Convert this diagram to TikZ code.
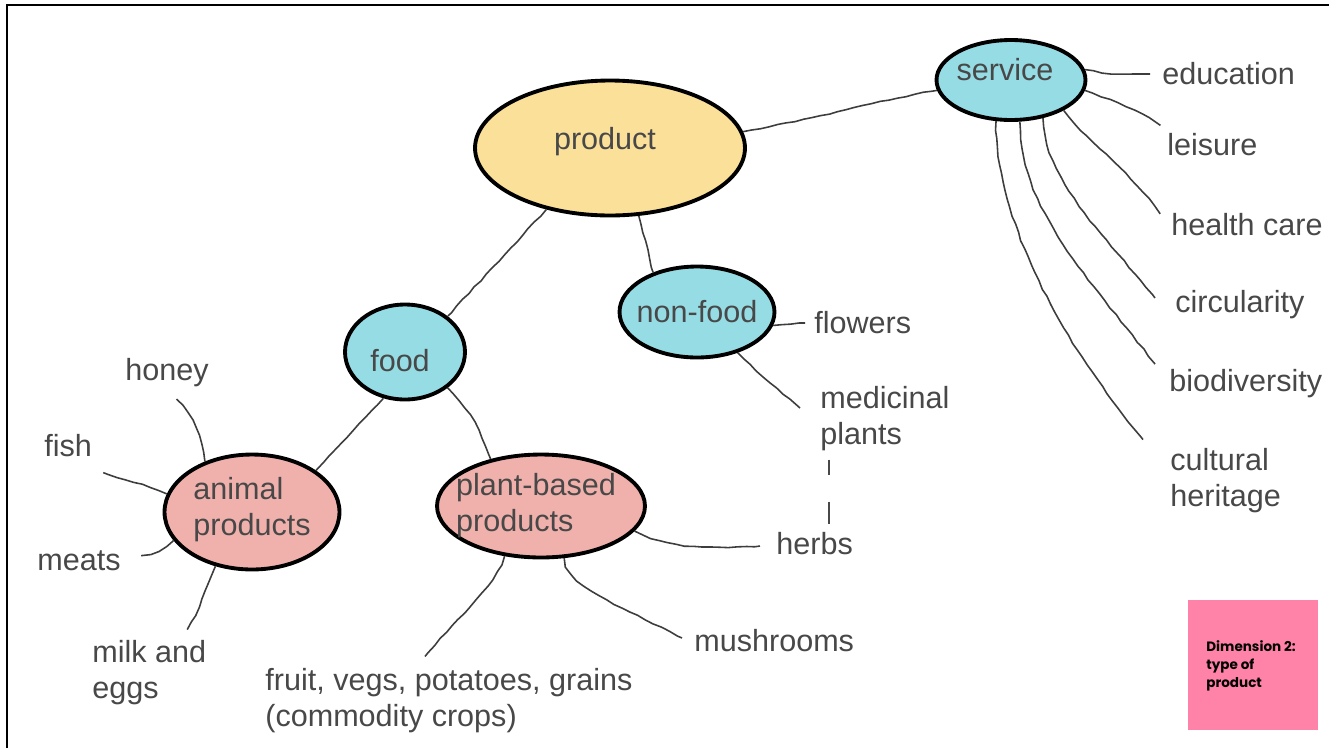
\documentclass[tikz,border=0pt]{standalone}
\usepackage{fontspec}
\setmainfont{Liberation Sans}
\newfontfamily\dimfont{Poppins}
\usetikzlibrary{shapes.geometric,calc,decorations.pathmorphing}
\definecolor{myyellow}{RGB}{251,224,154}
\definecolor{mycyan}{RGB}{150,220,228}
\definecolor{mypink}{RGB}{240,177,172}
\definecolor{mymagenta}{RGB}{255,130,168}
\definecolor{mygray}{RGB}{72,72,72}
\tikzset{
    bubble/.style={ellipse, draw=black, line width=2.2pt, inner sep=0pt},
    bubtext/.style={text=mygray, align=left, inner sep=0pt, font=\fontsize{17.4}{20.4}\selectfont},
    leaf/.style={anchor=west, inner sep=0pt, text=mygray, align=left, font=\fontsize{17.4}{20.4}\selectfont},
    conn/.style={draw=mygray!85!black, line width=0.9pt, decorate,
        decoration={random steps, segment length=5pt, amplitude=0.35pt}},
}

\begin{document}
\begin{tikzpicture}[x=0.02cm, y=-0.02cm]
    \pgfmathsetseed{7}
    \useasboundingbox (0,0) rectangle (1329,748);
    \begin{scope}
        % Frame
        \draw[line width=1.7pt] (7,748) -- (7,5) -- (1329,5);
        % Bubbles
        \node[bubble, fill=myyellow, minimum width=5.4cm, minimum height=2.7cm,
            label={[bubtext, xshift=-0.1cm, yshift=0.12cm]center:product}] (prod) at (610,148) {};
        \node[bubble, fill=mycyan, minimum width=2.98cm, minimum height=1.6cm,
            label={[bubtext, xshift=-0.12cm, yshift=0.2cm]center:service}] (serv) at (1011,80) {};
        \node[bubble, fill=mycyan, minimum width=3.1cm, minimum height=1.82cm,
            label={[bubtext]center:non-food}] (nonfood) at (697,312) {};
        \node[bubble, fill=mycyan, minimum width=2.4cm, minimum height=1.9cm,
            label={[bubtext, xshift=-0.1cm, yshift=-0.18cm]center:food}] (food) at (405,352) {};
        \node[bubble, fill=mypink, minimum width=3.5cm, minimum height=2.3cm,
            label={[bubtext, yshift=0.04cm]center:{animal\\products}}] (animal) at (252,512) {};
        \node[bubble, fill=mypink, minimum width=4.16cm, minimum height=2.06cm,
            label={[bubtext, xshift=-0.1cm]center:{plant-based\\products}}] (plant) at (541,506) {};
        % Service leaves
        \node[leaf] (edu) at (1162,74) {education};
        \node[leaf] (leis) at (1167,145) {leisure};
        \node[leaf] (health) at (1171,225) {health care};
        \node[leaf] (circ) at (1175,305) {circularity};
        \node[leaf] (bio) at (1169,384) {biodiversity};
        \node[leaf] (cult) at (1170,481) {cultural\\heritage};
        % Non-food leaves
        \node[leaf] (flow) at (814,323) {flowers};
        \node[leaf] (medic) at (820,419) {medicinal\\plants};
        % Plant leaves
        \node[leaf] (herbs) at (776,544) {herbs};
        \node[leaf] (mush) at (694,641) {mushrooms};
        \node[leaf] (fruit) at (265,701) {fruit, vegs, potatoes, grains\\(commodity crops)};
        % Animal leaves
        \node[leaf] (milk) at (92,673) {milk and\\eggs};
        \node[leaf] (meats) at (37,561) {meats};
        \node[leaf] (fish) at (44,446) {fish};
        \node[leaf] (honey) at (125,373) {honey};
        % Tree
        \draw[conn] (prod.7) .. controls (820,118) and (880,100) .. (serv.188);
        \draw[conn] (prod.224) -- (food.40);
        \draw[conn] (prod.293) -- (nonfood.138);
        \draw[conn] (food.245) -- (animal.33);
        \draw[conn] (food.320) .. controls (470,410) and (480,430) .. (plant.137);
        % Service
        \draw[conn] (serv.8) .. controls (1110,74) .. ($(edu.west)+(-12,0)$);
        \draw[conn] (serv.352) .. controls (1110,100) and (1140,110) .. ($(leis.west)+(-7,-19)$);
        \draw[conn] (serv.330) .. controls (1085,140) and (1130,170) .. ($(health.west)+(-11,-11)$);
        \draw[conn] (serv.310) .. controls (1045,180) and (1100,230) .. ($(circ.west)+(-20,-7)$);
        \draw[conn] (serv.282) .. controls (1020,210) and (1090,280) .. ($(bio.west)+(-14,-20)$);
        \draw[conn] (serv.250) .. controls (996,220) and (1060,340) .. ($(cult.north west)+(-27,-9)$);
        % Non-food
        \draw[conn] (nonfood.350) -- ($(flow.west)+(-9,0)$);
        \draw[conn] (nonfood.315) .. controls (760,375) .. ($(medic.west)+(-20,-11)$);
        \draw[mygray, line width=0.9pt, dash pattern=on 0.3cm off 0.54cm on 0.44cm]
            ($(medic.south west)+(9,8)$) -- ($(herbs.north west)+(53,-3)$);
        % Plant
        \draw[conn] (plant.345) .. controls (670,548) and (700,549) .. ($(herbs.west)+(-16,2)$);
        \draw[conn] (plant.294) .. controls (570,590) and (620,605) .. ($(mush.west)+(-12,-3)$);
        \draw[conn] (plant.234) .. controls (495,585) and (460,615) .. ($(fruit.north west)+(160,-12)$);
        % Animal
        \draw[conn] (animal.133) .. controls (200,430) and (190,410) .. ($(honey.south)+(9,12)$);
        \draw[conn] (animal.168) .. controls (150,486) and (130,482) .. ($(fish.south east)+(11,15)$);
        \draw[conn] (animal.200) .. controls (160,552) and (150,555) .. ($(meats.east)+(20,-7)$);
        \draw[conn] (animal.236) .. controls (205,590) and (200,610) .. ($(milk.north west)+(95,-11)$);
        % Dimension tag
        \fill[mymagenta] (1188,600) rectangle (1318,730);
        \node[anchor=west, align=left, inner sep=0pt, font=\dimfont\bfseries\fontsize{7.7}{10.2}\selectfont]
            (dim) at (1206,666) {Dimension 2:\\type of\\product};
    \end{scope}
\end{tikzpicture}
\end{document}
